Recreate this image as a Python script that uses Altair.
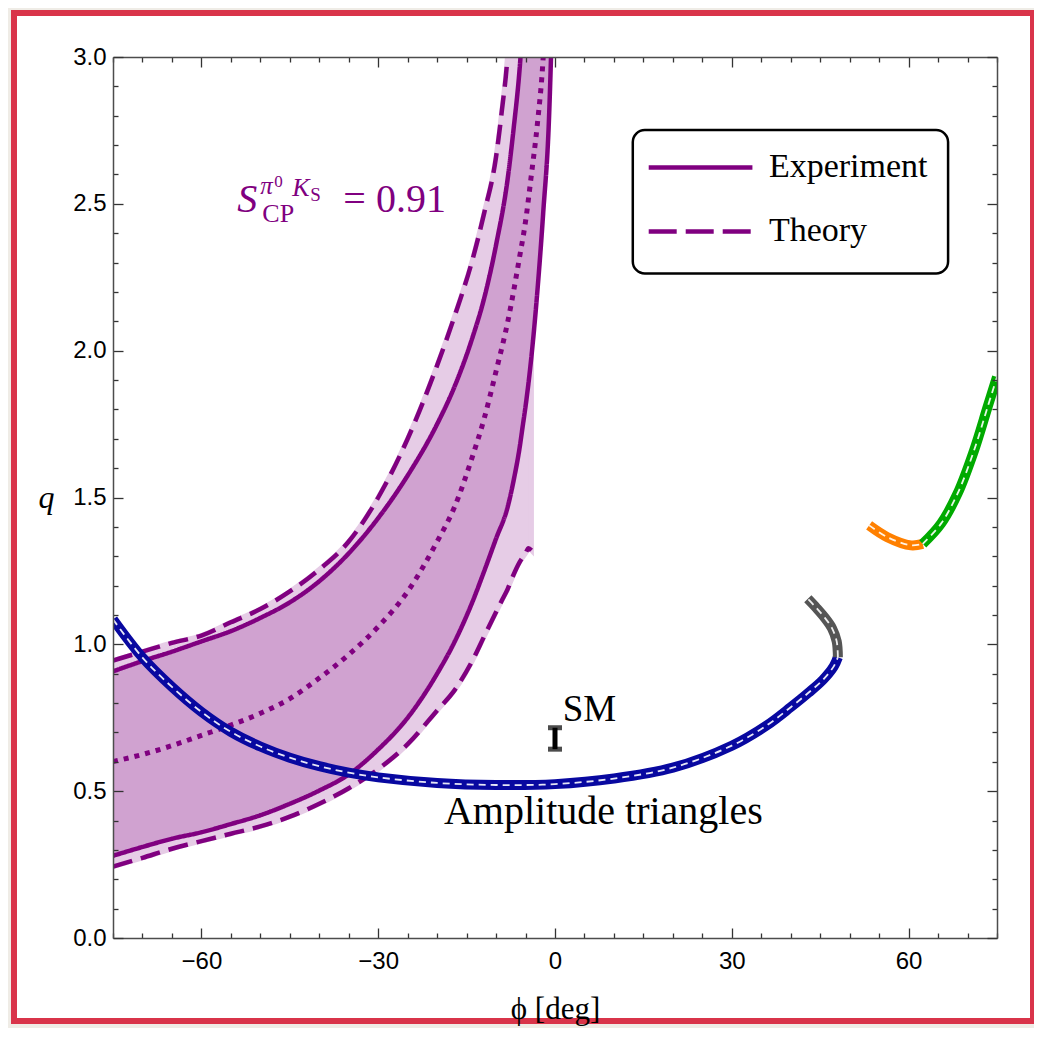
import altair as alt
import pandas as pd

PURPLE = "#800080"
SERIF = "Liberation Serif"
SANS = "Liberation Sans"
LIGHT = "#e6cce6"
DARK = "#d0a2d0"

# ---------------- data ----------------
# Experiment band (solid purple bounds)
exp_phi = [-75, -70, -65, -60, -55, -50, -45, -40, -35, -30, -25, -20, -17, -14, -12, -10, -8, -7, -6, -5.5, -5, -4, -3, -2, -1, -0.6]
exp_low = [0.28, 0.31, 0.338, 0.36, 0.388, 0.418, 0.457, 0.502, 0.557, 0.642, 0.75, 0.9, 1.01, 1.145, 1.25, 1.36, 1.47, 1.56, 1.67, 1.74, 1.81, 1.98, 2.2, 2.47, 2.8, 3.05]
exp_up = [0.908, 0.943, 0.975, 1.01, 1.045, 1.09, 1.143, 1.215, 1.31, 1.43, 1.575, 1.75, 1.88, 2.045, 2.18, 2.36, 2.59, 2.76, 2.96, 3.1, 3.2, 3.2, 3.2, 3.2, 3.2, 3.2]

# Theory band (dashed purple bounds)
th_phi = [-75, -70, -65, -60, -55, -50, -45, -40, -35, -30, -25, -20, -17, -14, -12, -10, -9, -8, -7.5, -6, -5, -4.5, -4.0]
th_low = [0.243, 0.273, 0.304, 0.33, 0.355, 0.38, 0.413, 0.457, 0.51, 0.575, 0.66, 0.775, 0.845, 0.945, 1.028, 1.11, 1.15, 1.19, 1.215, 1.28, 1.31, 1.327, 1.32]
th_up = [0.945, 0.975, 1.005, 1.03, 1.075, 1.12, 1.18, 1.255, 1.35, 1.5, 1.7, 1.95, 2.12, 2.31, 2.47, 2.66, 2.82, 3.02, 3.2, 3.2, 3.2, 3.2, 3.2]

# Central value (dotted)
cen_phi = [-75, -70, -65, -60, -55, -50, -45, -40, -35, -30, -25, -20, -17, -14, -12, -10, -8, -6, -5, -4, -3, -2, -1.6]
cen_q = [0.601, 0.625, 0.655, 0.69, 0.725, 0.765, 0.815, 0.885, 0.965, 1.06, 1.18, 1.35, 1.47, 1.64, 1.77, 1.93, 2.1, 2.32, 2.44, 2.6, 2.77, 3.0, 3.15]

# Amplitude-triangle curves
blue_phi = [-75, -70, -65, -60, -55, -50, -45, -40, -35, -30, -20, -10, 0, 10, 20, 30, 36, 40, 43, 45.5, 47.3, 48.0]
blue_q = [1.085, 0.955, 0.855, 0.77, 0.702, 0.652, 0.614, 0.585, 0.563, 0.547, 0.528, 0.521, 0.524, 0.543, 0.58, 0.655, 0.725, 0.786, 0.835, 0.88, 0.925, 0.956]
gray_phi = [48.0, 47.8, 47.0, 45.8, 44.4, 42.9]
gray_q = [0.956, 1.01, 1.055, 1.09, 1.123, 1.155]
orange_phi = [53.3, 56.4, 60.4, 62.4]
orange_q = [1.405, 1.365, 1.337, 1.342]
green_phi = [62.4, 65.5, 68.3, 71.1, 73.4, 75.0]
green_q = [1.342, 1.411, 1.513, 1.66, 1.808, 1.91]
seg_names = ["blue", "gray", "orange", "green"]
seg_colors = ["#0808a0", "#555555", "#ff8000", "#00aa00"]

# SM point
sm_phi = [0.0]
sm_lo = [0.643]
sm_hi = [0.716]

# Legend (drawn by hand, Mathematica style)
legend_labels = ["Experiment", "Theory"]
legend_box_phi = [13.2, 66.7]
legend_box_q = [2.263, 2.751]
legend_line_phi = [15.9, 33.5]
legend_text_phi = 36.3
legend_row_q = [2.624, 2.406]

x_ticks = list(range(-75, 80, 5))
y_ticks = [round(0.1 * i, 1) for i in range(31)]

# ---------------- tables ----------------
exp_df = pd.DataFrame({"phi": exp_phi, "low": exp_low, "up": exp_up})
th_df = pd.DataFrame({"phi": th_phi, "low": th_low, "up": th_up})
cen_df = pd.DataFrame({"phi": cen_phi, "q": cen_q})

rows = []
for name, kind, xs_, ys_ in [("exp_up", "Experiment", exp_phi, exp_up),
                             ("exp_low", "Experiment", exp_phi, exp_low),
                             ("th_up", "Theory", th_phi, th_up),
                             ("th_low", "Theory", th_phi, th_low)]:
    for i, (a, b) in enumerate(zip(xs_, ys_)):
        rows.append({"phi": a, "q": b, "curve": name, "type": kind, "idx": i})
bounds_df = pd.DataFrame(rows)

rows = []
for name, xs_, ys_ in [("blue", blue_phi, blue_q), ("gray", gray_phi, gray_q),
                       ("orange", orange_phi, orange_q), ("green", green_phi, green_q)]:
    for i, (a, b) in enumerate(zip(xs_, ys_)):
        rows.append({"phi": a, "q": b, "seg": name, "idx": i})
amp_df = pd.DataFrame(rows)

sm_df = pd.DataFrame({"phi": sm_phi, "lo": sm_lo, "hi": sm_hi})
sm_caps = pd.DataFrame({"phi": sm_phi * 2, "q": sm_lo + sm_hi})

leg_box_df = pd.DataFrame({"x1": [legend_box_phi[0]], "x2": [legend_box_phi[1]],
                           "y1": [legend_box_q[0]], "y2": [legend_box_q[1]]})
leg_line_df = pd.DataFrame({"x1": [legend_line_phi[0]] * 2, "x2": [legend_line_phi[1]] * 2,
                            "q": legend_row_q, "type": legend_labels})
leg_text_df = pd.DataFrame({"phi": [legend_text_phi] * 2, "q": legend_row_q, "t": legend_labels})

# ---------------- scales & axes ----------------
xs = alt.Scale(domain=[-75, 75], nice=False, zero=False)
ys = alt.Scale(domain=[0, 3], nice=False, zero=False)

X_MAJOR = "datum.value % 30 === 0"
Y_MAJOR = "abs(datum.value * 2 - round(datum.value * 2)) < 0.001"

common = dict(grid=False, zindex=1, domainColor="#4d4d4d", domainWidth=1.5,
              tickColor="#333333", tickWidth=1.3, labelFlush=False, labelOverlap=False,
              labelFont=SANS, labelFontSize=24, labelColor="black")

ax_bottom = alt.Axis(orient="bottom", values=x_ticks,
                     labelExpr=f"{X_MAJOR} ? format(datum.value, 'd') : ''",
                     tickSize={"expr": f"{X_MAJOR} ? -10 : -5"}, labelPadding=21,
                     title="ϕ [deg]", titleFont=SERIF, titleFontSize=31, titleFontWeight="normal",
                     titleColor="black", titleBaseline="alphabetic", titleY=80, **common)
ax_top = alt.Axis(orient="top", values=x_ticks, labels=False,
                  tickSize={"expr": f"{X_MAJOR} ? -10 : -5"}, title=None, **common)
ax_left = alt.Axis(orient="left", values=y_ticks,
                   labelExpr=f"{Y_MAJOR} ? format(datum.value, '.1f') : ''",
                   tickSize={"expr": f"{Y_MAJOR} ? -10 : -5"}, labelPadding=17,
                   title="q", titleFont=SERIF, titleFontSize=32, titleFontWeight="normal",
                   titleFontStyle="italic", titleColor="black", titleAngle=0,
                   titleAlign="center", titleBaseline="middle", titleX=-67, titleY=440, **common)
ax_right = alt.Axis(orient="right", values=y_ticks, labels=False,
                    tickSize={"expr": f"{Y_MAJOR} ? -10 : -5"}, title=None, **common)

def X(field, axis=None):
    return alt.X(f"{field}:Q", scale=xs, axis=axis)

def Y(field, axis=None):
    return alt.Y(f"{field}:Q", scale=ys, axis=axis)

dash_scale = alt.Scale(domain=legend_labels, range=[[1, 0], [20, 9]])

# ---------------- layers ----------------
frame = alt.Chart(pd.DataFrame({"a": [0]})).mark_rect(
    fill="white", stroke="#d9344a", strokeWidth=6, clip=False
).encode(x=alt.value(-99), x2=alt.value(920), y=alt.value(-44), y2=alt.value(964))

light = alt.Chart(th_df).mark_area(fill=LIGHT, stroke=LIGHT, strokeWidth=5, interpolate="monotone",
                                   clip=True).encode(
    x=X("phi", ax_bottom), y=Y("low", ax_left), y2="up:Q")

dark = alt.Chart(exp_df).mark_area(color=DARK, interpolate="monotone", clip=True).encode(
    x=X("phi"), y=Y("low"), y2="up:Q")

bounds = alt.Chart(bounds_df).mark_line(color=PURPLE, strokeWidth=4.5, interpolate="monotone",
                                        clip=True, strokeCap="butt").encode(
    x=X("phi"), y=Y("q"), detail="curve:N", order="idx:Q",
    strokeDash=alt.StrokeDash("type:N", scale=dash_scale, legend=None))

central = alt.Chart(cen_df).mark_line(color=PURPLE, strokeWidth=5, strokeDash=[5, 6], strokeCap="butt",
                                      interpolate="monotone", clip=True).encode(
    x=X("phi", ax_top), y=Y("q", ax_right))

amp = alt.Chart(amp_df).mark_line(strokeWidth=10, interpolate="catmull-rom", clip=True, strokeCap="butt").encode(
    x=X("phi"), y=Y("q"), order="idx:Q",
    color=alt.Color("seg:N", scale=alt.Scale(domain=seg_names, range=seg_colors), legend=None))

amp_dash = alt.Chart(amp_df).mark_line(strokeWidth=1.8, color="white", opacity=0.9, strokeDash=[7, 5],
                                       interpolate="catmull-rom", clip=True).encode(
    x=X("phi"), y=Y("q"), order="idx:Q", detail="seg:N")

sm_bar = alt.Chart(sm_df).mark_rule(color="black", strokeWidth=5).encode(
    x=X("phi"), y=Y("lo"), y2="hi:Q")
sm_cap = alt.Chart(sm_caps).mark_tick(orient="horizontal", color="black", thickness=5, size=14).encode(
    x=X("phi"), y=Y("q"))

# text annotations
amp_label = alt.Chart(pd.DataFrame({"phi": [8.2], "q": [0.388], "t": ["Amplitude triangles"]})).mark_text(
    font=SERIF, fontSize=40, align="center", baseline="alphabetic", color="black").encode(
    x=X("phi"), y=Y("q"), text="t:N")
sm_label = alt.Chart(pd.DataFrame({"phi": [1.3], "q": [0.74], "t": ["SM"]})).mark_text(
    font=SERIF, fontSize=37, align="left", baseline="alphabetic", color="black").encode(
    x=X("phi"), y=Y("q"), text="t:N")

anchor_df = pd.DataFrame({"phi": [-53.9], "q": [2.471]})
pieces = [("S", 0, 0, 40, "italic"),
          ("π", 23, -18, 25, "italic"),
          ("0", 37, -25, 17, "normal"),
          ("K", 55, -16, 26, "italic"),
          ("S", 73, -11, 19, "normal"),
          ("CP", 25, 10, 26, "normal"),
          ("= 0.91", 106, 0, 40, "normal")]
scp_layers = [
    alt.Chart(anchor_df).mark_text(text=t, dx=dx, dy=dy, fontSize=fs, fontStyle=st, font=SERIF,
                                   color=PURPLE, align="left", baseline="alphabetic").encode(
        x=X("phi"), y=Y("q"))
    for t, dx, dy, fs, st in pieces
]

# legend box
leg_box = alt.Chart(leg_box_df).mark_rect(fill="white", stroke="black", strokeWidth=2.5,
                                          cornerRadius=12).encode(
    x=X("x1"), x2="x2:Q", y=Y("y1"), y2="y2:Q")
leg_lines = alt.Chart(leg_line_df).mark_rule(color=PURPLE, strokeWidth=4.5, strokeCap="butt").encode(
    x=X("x1"), x2="x2:Q", y=Y("q"),
    strokeDash=alt.StrokeDash("type:N", scale=alt.Scale(domain=legend_labels, range=[[1, 0], [28, 9]]),
                              legend=None))
leg_text = alt.Chart(leg_text_df).mark_text(font=SERIF, fontSize=34, align="left", baseline="middle",
                                            color="black").encode(x=X("phi"), y=Y("q"), text="t:N")

chart = alt.layer(
    frame, light, dark, bounds, central, amp, amp_dash, sm_bar, sm_cap, amp_label, sm_label,
    *scp_layers, leg_box, leg_lines, leg_text
).resolve_axis(x="independent", y="independent").resolve_scale(strokeDash="independent").properties(
    width=884, height=881,
    padding={"left": 105, "top": 49, "right": 37, "bottom": 90},
    autosize=alt.AutoSizeParams(type="none"),
    background="#efece6",
).configure_view(strokeWidth=0)

chart.save("out.html", embed_options={"renderer": "svg", "actions": False})
